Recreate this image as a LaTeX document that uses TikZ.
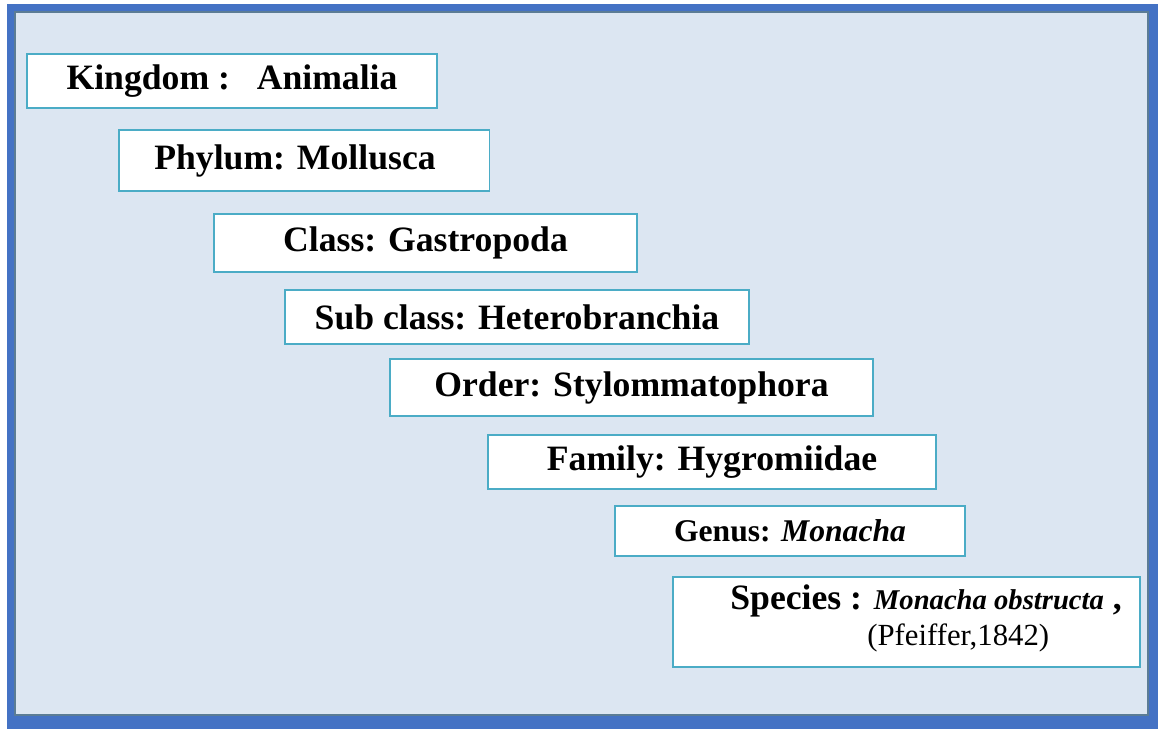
\documentclass[tikz,border=0pt]{standalone}
\usepackage{fontspec}
\setmainfont{Liberation Serif}
\definecolor{frameblue}{HTML}{4472C4}
\definecolor{paneblue}{HTML}{DCE6F2}
\definecolor{paneline}{HTML}{5B7C95}
\definecolor{boxline}{HTML}{4BACC6}
\tikzset{taxbox/.style={draw=boxline,fill=white,line width=1.1pt,inner sep=0pt,
  font=\bfseries\fontsize{20.3}{24}\selectfont}}

\begin{document}
\begin{tikzpicture}[x=0.02cm,y=-0.02cm]
\useasboundingbox (0,0) rectangle (1158,729);
% Outer frame and the light panel inside it.
\fill[frameblue] (7,4) rectangle (1158,729);
\filldraw[fill=paneblue,draw=paneline,line width=0.6pt] (15,12) rectangle (1148,715);
% One box per rank, each further to the right.
\node[taxbox,minimum width=8.2cm,minimum height=1.08cm] (kingdom) at (232,81) {Kingdom :\ \ \ Animalia};
\node[taxbox,minimum width=7.42cm,minimum height=1.22cm] (phylum) at (304,160.5) {Phylum: Mollusca\hspace*{0.36cm}};
\node[taxbox,minimum width=8.46cm,minimum height=1.16cm] (class) at (425.5,243) {Class: Gastropoda};
\node[taxbox,minimum width=9.28cm,minimum height=1.08cm] (subclass) at (517,317) {Sub class: Heterobranchia};
\node[taxbox,minimum width=9.66cm,minimum height=1.14cm] (order) at (631.5,387.5) {Order: Stylommatophora};
\node[taxbox,minimum width=8.96cm,minimum height=1.08cm] (family) at (712,462) {Family: Hygromiidae};
\node[taxbox,minimum width=7.0cm,minimum height=1.0cm,font=\bfseries\fontsize{18}{22}\selectfont] (genus) at (790,531) {Genus: \textit{Monacha}};
\node[taxbox,minimum width=9.34cm,minimum height=1.8cm] (species) at (906.5,622) {};
% The species box holds two lines set apart.
\node[anchor=west,inner sep=0pt,font=\bfseries\fontsize{20.3}{24}\selectfont] (specname) at (730,601)
  {Species : {\itshape\fontsize{16.3}{20}\selectfont Monacha obstructa} ,};
\node[anchor=west,inner sep=0pt,font=\fontsize{17.5}{20}\selectfont] (specauth) at (867,638) {(Pfeiffer,1842)};
\end{tikzpicture}
\end{document}
